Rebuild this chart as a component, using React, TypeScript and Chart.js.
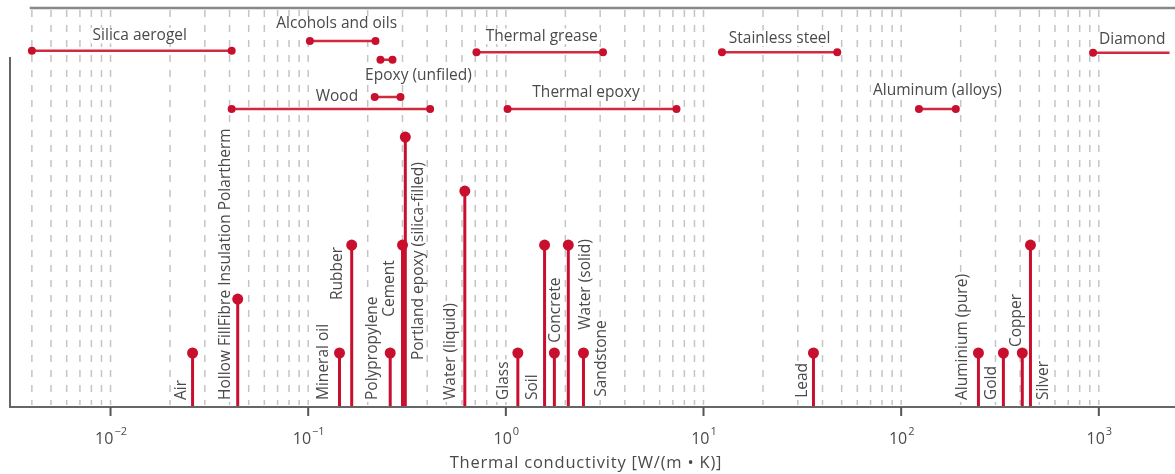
import { useEffect, useRef } from 'react';
import { Chart, registerables } from 'chart.js';

Chart.register(...registerables);

// ---- Point materials (lollipops) ----
const materialNames = [
  'Air',
  'Hollow FillFibre Insulation Polartherm',
  'Mineral oil',
  'Rubber',
  'Polypropylene',
  'Cement',
  'Portland epoxy (silica-filled)',
  'Water (liquid)',
  'Glass',
  'Soil',
  'Concrete',
  'Water (solid)',
  'Sandstone',
  'Lead',
  'Aluminium (pure)',
  'Gold',
  'Copper',
  'Silver',
];
const materialConductivity = [0.026, 0.044, 0.144, 0.166, 0.26, 0.3, 0.31, 0.62, 1.15, 1.57, 1.76, 2.07, 2.47, 36, 246, 329, 410, 451];
const materialLevel = [1, 2, 1, 3, 1, 3, 5, 4, 1, 3, 1, 3, 1, 1, 1, 1, 1, 3];

// ---- Range materials (horizontal bars) ----
const rangeNames = ['Silica aerogel', 'Alcohols and oils', 'Epoxy (unfiled)', '', 'Wood', 'Thermal grease', 'Thermal epoxy', 'Stainless steel', 'Aluminum (alloys)', 'Diamond'];
const rangeLow = [0.004, 0.102, 0.232, 0.217, 0.041, 0.71, 1.02, 12.4, 123, 935];
const rangeHigh = [0.041, 0.219, 0.267, 0.293, 0.414, 3.1, 7.3, 47.5, 189, 2400];
const rangeRow = [6.6, 6.78, 6.43, 5.74, 5.52, 6.57, 5.52, 6.57, 5.52, 6.56];

// ---- Axis ----
const tickExponents = [-2, -1, 0, 1, 2, 3];
const axisTitle = 'Thermal conductivity [W/(m \u2022 K)]';
const xMin = 0.0031;
const xMax = 2278;
const yMax = 7.39;

// ---- Label layout (pixel offsets, not data) ----
const labelDx = [-11, -12, -16, -14, -18, -13, 13, -14, -14, -12, 1, 17, 18, -11, -16, -12, -6, 13];
const labelStart = [0.13, 0.13, 0.13, 1.98, 0.13, 1.67, 0.87, 0.13, 0.13, 0.13, 1.19, 1.43, 0.19, 0.17, 0.13, 0.13, 1.11, 0.13];
const rangeLabelDx = [8, -6, 32, 0, 6, 2, -6, 0, 0, 6];
const rangeLabelDy = [-15, -17, 16, 0, -12, -16, -16, -14, -18, -13];
const rangeLabelAlign = ['center', 'center', 'center', 'center', 'center', 'center', 'center', 'center', 'center', 'left'];

const RED = '#c8102e';
const TEXT = '#4a4a4a';
const AXIS = '#666666';
const FONT_FAMILY = '"Open Sans", Lato, sans-serif';
const FONT_SIZE = 15.5;

const customPlugin = {
  id: 'customDraw',
  beforeDatasetsDraw(chart: any) {
    const { ctx, chartArea } = chart;
    const x = chart.scales.x;
    const y = chart.scales.y;
    ctx.save();
    // dashed minor gridlines
    ctx.strokeStyle = '#c4c4c4';
    ctx.lineWidth = 1.5;
    ctx.setLineDash([7, 8]);
    for (let e = -3; e <= 3; e++) {
      for (let k = 1; k <= 9; k++) {
        const v = k * Math.pow(10, e);
        if (v < 0.0039 || v > 1001) continue;
        const px = x.getPixelForValue(v);
        ctx.beginPath();
        ctx.moveTo(px, chartArea.top + 2);
        ctx.lineTo(px, chartArea.bottom - 2);
        ctx.stroke();
      }
    }
    ctx.setLineDash([]);

    ctx.font = `${FONT_SIZE}px ${FONT_FAMILY}`;
    ctx.textBaseline = 'middle';
    // rotated lollipop labels
    materialNames.forEach((name, i) => {
      const cx = x.getPixelForValue(materialConductivity[i]) + labelDx[i];
      const by = y.getPixelForValue(labelStart[i]);
      const w = ctx.measureText(name).width;
      ctx.save();
      ctx.translate(cx, by);
      ctx.rotate(-Math.PI / 2);
      ctx.fillStyle = '#ffffff';
      ctx.fillRect(-2, -FONT_SIZE / 2, w + 4, FONT_SIZE);
      ctx.fillStyle = TEXT;
      ctx.textAlign = 'left';
      ctx.fillText(name, 0, 0);
      ctx.restore();
    });
    // range labels
    rangeNames.forEach((name, i) => {
      if (!name) return;
      const lo = x.getPixelForValue(rangeLow[i]);
      const hi = x.getPixelForValue(rangeHigh[i]);
      const py = y.getPixelForValue(rangeRow[i]) + rangeLabelDy[i];
      const w = ctx.measureText(name).width;
      let left;
      if (rangeLabelAlign[i] === 'left') left = lo + rangeLabelDx[i];
      else left = (lo + hi) / 2 + rangeLabelDx[i] - w / 2;
      ctx.fillStyle = '#ffffff';
      ctx.fillRect(left - 2, py - FONT_SIZE / 2, w + 4, FONT_SIZE);
      ctx.fillStyle = TEXT;
      ctx.textAlign = 'left';
      ctx.fillText(name, left, py);
    });
    ctx.restore();
  },
  afterDatasetsDraw(chart: any) {
    const { ctx, chartArea, width } = chart;
    const x = chart.scales.x;
    const y = chart.scales.y;
    const base = y.getPixelForValue(0);
    ctx.save();
    // top spine
    ctx.strokeStyle = '#888888';
    ctx.lineWidth = 2.5;
    ctx.beginPath();
    ctx.moveTo(x.getPixelForValue(0.0039), chartArea.top);
    ctx.lineTo(width, chartArea.top);
    ctx.stroke();
    // left spine
    ctx.strokeStyle = AXIS;
    ctx.lineWidth = 2;
    ctx.beginPath();
    ctx.moveTo(chartArea.left, 57);
    ctx.lineTo(chartArea.left, base + 1);
    ctx.stroke();
    // bottom axis
    ctx.beginPath();
    ctx.moveTo(chartArea.left - 1, base);
    ctx.lineTo(width, base);
    ctx.stroke();
    // ticks + labels
    ctx.fillStyle = TEXT;
    tickExponents.forEach((e) => {
      const px = x.getPixelForValue(Math.pow(10, e));
      ctx.strokeStyle = '#555555';
      ctx.lineWidth = 2;
      ctx.beginPath();
      ctx.moveTo(px, base);
      ctx.lineTo(px, base + 9);
      ctx.stroke();
      const mant = '10';
      const expo = e < 0 ? '\u2212' + Math.abs(e) : String(e);
      ctx.font = `16px ${FONT_FAMILY}`;
      const wm = ctx.measureText(mant).width;
      ctx.font = `11px ${FONT_FAMILY}`;
      const we = ctx.measureText(expo).width;
      const start = px - (wm + we) / 2;
      ctx.textAlign = 'left';
      ctx.textBaseline = 'alphabetic';
      ctx.font = `16px ${FONT_FAMILY}`;
      ctx.fillText(mant, start, base + 37);
      ctx.font = `11px ${FONT_FAMILY}`;
      ctx.fillText(expo, start + wm + 1, base + 28);
    });
    // axis title
    ctx.font = `16.5px ${FONT_FAMILY}`;
    (ctx as any).letterSpacing = '0.8px';
    ctx.textAlign = 'center';
    ctx.textBaseline = 'middle';
    ctx.fillText(axisTitle, 586, base + 56);
    ctx.restore();
  },
};

export default function App() {
  const canvasRef = useRef<HTMLCanvasElement | null>(null);

  useEffect(() => {
    if (!canvasRef.current) return;
    const datasets: any[] = [];
    materialNames.forEach((name, i) => {
      datasets.push({
        label: name,
        data: [
          { x: materialConductivity[i], y: 0 },
          { x: materialConductivity[i], y: materialLevel[i] },
        ],
        showLine: true,
        borderColor: RED,
        borderWidth: 3,
        pointRadius: [0, 5.5],
        pointBackgroundColor: RED,
        pointBorderWidth: 0,
        pointHoverRadius: [0, 5.5],
      });
    });
    rangeNames.forEach((name, i) => {
      datasets.push({
        label: name || 'range',
        data: [
          { x: rangeLow[i], y: rangeRow[i] },
          { x: rangeHigh[i], y: rangeRow[i] },
        ],
        showLine: true,
        borderColor: '#cf2a3e',
        borderWidth: 2.5,
        pointRadius: 4,
        pointBackgroundColor: RED,
        pointBorderWidth: 0,
      });
    });

    const chart = new Chart(canvasRef.current, {
      type: 'scatter',
      data: { datasets },
      options: {
        animation: false,
        responsive: false,
        devicePixelRatio: 1,
        layout: { padding: { left: 10, right: 0, top: 8, bottom: 67 } },
        plugins: { legend: { display: false }, tooltip: { enabled: false } },
        events: [],
        scales: {
          x: { type: 'logarithmic', min: xMin, max: xMax, bounds: 'data', display: false },
          y: { type: 'linear', min: 0, max: yMax, bounds: 'data', display: false },
        },
      },
      plugins: [customPlugin],
    } as any);
    return () => chart.destroy();
  }, []);

  return (
    <div style={{ position: 'absolute', left: 0, top: 0, width: 1175, height: 474, background: '#fff' }}>
      <canvas ref={canvasRef} width={1175} height={474} style={{ display: 'block' }} />
    </div>
  );
}
